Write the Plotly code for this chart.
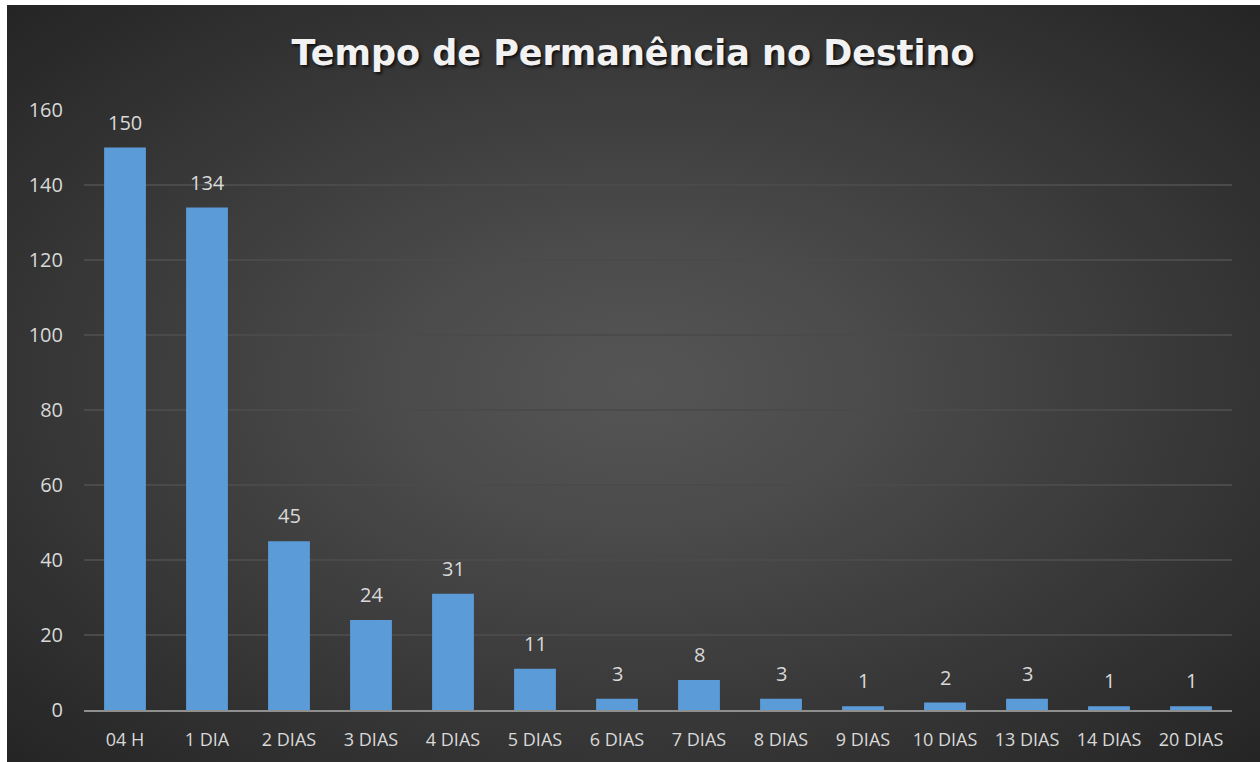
import base64
import plotly.graph_objects as go

categories = ["04 H", "1 DIA", "2 DIAS", "3 DIAS", "4 DIAS", "5 DIAS", "6 DIAS",
              "7 DIAS", "8 DIAS", "9 DIAS", "10 DIAS", "13 DIAS", "14 DIAS", "20 DIAS"]
values = [150, 134, 45, 24, 31, 11, 3, 8, 3, 1, 2, 3, 1, 1]
y_ticks = [0, 20, 40, 60, 80, 100, 120, 140, 160]

W, H = 1260, 762
L, R, T, B = 84, 28, 110, 52
pw, ph = W - L - R, H - T - B

svg = f'''<svg xmlns="http://www.w3.org/2000/svg" width="{W}" height="{H}" viewBox="0 0 {W} {H}" preserveAspectRatio="none">
<defs><radialGradient id="g" cx="50%" cy="50%" r="70%" gradientUnits="objectBoundingBox">
<stop offset="0" stop-color="#555555"/><stop offset="0.25" stop-color="#4c4c4c"/><stop offset="1" stop-color="#252525"/></radialGradient></defs>
<rect x="0" y="0" width="{W}" height="{H}" fill="url(#g)"/></svg>'''
src = "data:image/svg+xml;base64," + base64.b64encode(svg.encode()).decode()

x0 = (7 - L) / pw
x1 = (W - L) / pw
ytop = (H - B - 5) / ph
ybot = -(B) / ph

fig = go.Figure()
fig.add_trace(go.Bar(
    x=categories, y=values,
    marker=dict(color="#5b9bd7", line=dict(width=0)),
    hoverinfo="x+y",
))

for c, v in zip(categories, values):
    fig.add_annotation(x=c, y=v, text=str(v), showarrow=False, yanchor="bottom",
                       yshift=10, font=dict(family="Open Sans", size=20, color="#d9d9d9"))

fig.update_layout(
    width=W, height=H,
    margin=dict(l=L, r=R, t=T, b=B, autoexpand=False),
    paper_bgcolor="#ffffff",
    plot_bgcolor="rgba(0,0,0,0)",
    bargap=0.49,
    showlegend=False,
    title=dict(
        text="Tempo de Permanência no Destino",
        x=(633 - L) / pw, xref="paper", xanchor="center", y=1 - 53 / H, yanchor="middle",
        font=dict(family="DejaVu Sans", size=35, color="#f2f2f2", weight="bold",
                  shadow="2px 2px 3px rgba(0,0,0,0.7)"),
    ),
    images=[dict(source=src, xref="paper", yref="paper", x=x0, y=ytop,
                 sizex=x1 - x0, sizey=ytop - ybot, sizing="stretch",
                 xanchor="left", yanchor="top", layer="below")],
    xaxis=dict(
        showgrid=False, showline=True, linecolor="#8f8f8f", linewidth=2,
        ticks="", tickfont=dict(family="Open Sans", size=18, color="#d9d9d9"),
        ticklabelstandoff=12, fixedrange=True,
    ),
    yaxis=dict(
        range=[0, 160], tickvals=y_ticks, showgrid=True, gridcolor="#4a4a4a",
        gridwidth=2, zeroline=False, showline=False, ticks="",
        tickfont=dict(family="Open Sans", size=20, color="#d9d9d9"),
        ticklabelstandoff=20, fixedrange=True,
    ),
)

fig.write_html("out.html", config={"displayModeBar": False},
               post_script="document.body.style.margin='0';")
